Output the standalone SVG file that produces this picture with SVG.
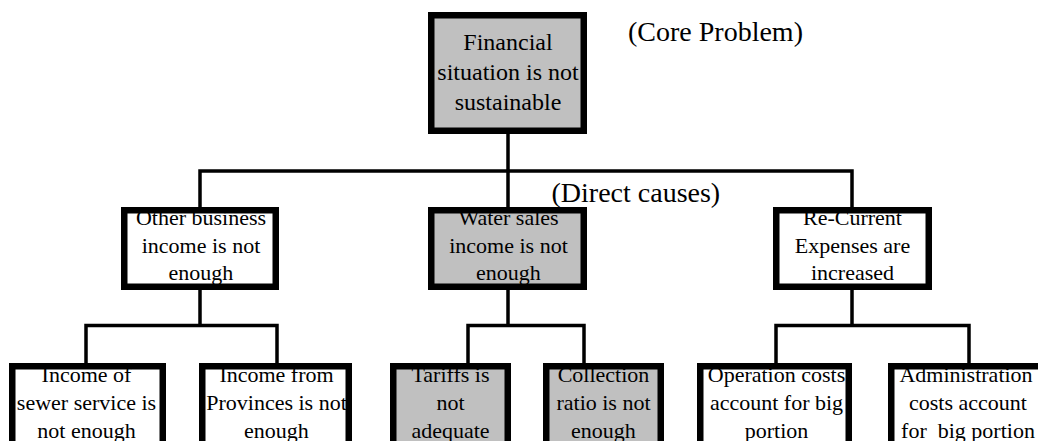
<svg xmlns="http://www.w3.org/2000/svg" width="1038" height="441" viewBox="0 0 1038 441">
<style>
.bg{fill:#ffffff}
.fillg{fill:#c0c0c0;stroke:none}
.fillw{fill:#ffffff;stroke:none}
.border{fill:none;stroke:#000;stroke-width:6.5}
.conn{stroke:#000;stroke-width:3.5;fill:none;stroke-linecap:square}
text{font-family:'Liberation Serif','DejaVu Serif',serif;fill:#000}
.t24{font-size:24px;text-anchor:middle}
.t22{font-size:22px;text-anchor:middle}
.lbl{font-size:28px}
</style>
<rect class="bg" x="0" y="0" width="1038" height="441"/>
<g id="connectors">
<path class="conn" d="M508,134 V171 M200,171 H852 M200,171 V207 M508,171 V207 M852,171 V207"/>
<path class="conn" d="M200,290 V325.5 M86,325.5 H277 M86,325.5 V363 M277,325.5 V363"/>
<path class="conn" d="M508,290 V325.5 M468,325.5 H584 M468,325.5 V363 M584,325.5 V363"/>
<path class="conn" d="M852,290 V325.5 M776,325.5 H969 M776,325.5 V363 M969,325.5 V363"/>
</g>
<text class="lbl" x="628" y="41" font-family="Liberation Serif">(Core Problem)</text>
<text class="lbl" x="551.5" y="201.5" font-family="Liberation Serif">(Direct causes)</text>
<g id="core">
<rect class="fillg" x="431.25" y="15.25" width="152.5" height="115.5"/>
<text class="t24" x="508" y="49.5">Financial</text>
<text class="t24" x="508" y="79.5">situation is not</text>
<text class="t24" x="508" y="109.5">sustainable</text>
<rect class="border" x="431.25" y="15.25" width="152.5" height="115.5"/>
</g>
<g id="other-business">
<rect class="fillw" x="124.25" y="210.25" width="151.5" height="76.5"/>
<text class="t22" x="201" y="225">Other business</text>
<text class="t22" x="201" y="252.5">income is not</text>
<text class="t22" x="201" y="280">enough</text>
<rect class="border" x="124.25" y="210.25" width="151.5" height="76.5"/>
</g>
<g id="water-sales">
<rect class="fillg" x="431.25" y="210.25" width="152.5" height="76.5"/>
<text class="t22" x="508.5" y="225">Water sales</text>
<text class="t22" x="508.5" y="252.5">income is not</text>
<text class="t22" x="508.5" y="280">enough</text>
<rect class="border" x="431.25" y="210.25" width="152.5" height="76.5"/>
</g>
<g id="recurrent">
<rect class="fillw" x="776.25" y="210.25" width="152.5" height="76.5"/>
<text class="t22" x="852.5" y="225">Re-Current</text>
<text class="t22" x="852.5" y="252.5">Expenses are</text>
<text class="t22" x="852.5" y="280">increased</text>
<rect class="border" x="776.25" y="210.25" width="152.5" height="76.5"/>
</g>
<g id="sewer">
<rect class="fillw" x="12.25" y="366.25" width="150.5" height="100"/>
<text class="t22" x="86.5" y="381.5">Income of</text>
<text class="t22" x="86.5" y="409.5">sewer service is</text>
<text class="t22" x="86.5" y="437.5">not enough</text>
<rect class="border" x="12.25" y="366.25" width="150.5" height="100"/>
</g>
<g id="provinces">
<rect class="fillw" x="202.25" y="366.25" width="146.5" height="100"/>
<text class="t22" x="276.5" y="381.5">Income from</text>
<text class="t22" x="276.5" y="409.5">Provinces is not</text>
<text class="t22" x="276.5" y="437.5">enough</text>
<rect class="border" x="202.25" y="366.25" width="146.5" height="100"/>
</g>
<g id="tariffs">
<rect class="fillg" x="393.25" y="366.25" width="114.5" height="100"/>
<text class="t22" x="450.5" y="381.5">Tariffs is</text>
<text class="t22" x="450.5" y="409.5">not</text>
<text class="t22" x="450.5" y="437.5">adequate</text>
<rect class="border" x="393.25" y="366.25" width="114.5" height="100"/>
</g>
<g id="collection">
<rect class="fillg" x="546.25" y="366.25" width="114.5" height="100"/>
<text class="t22" x="603.5" y="381.5">Collection</text>
<text class="t22" x="603.5" y="409.5">ratio is not</text>
<text class="t22" x="603.5" y="437.5">enough</text>
<rect class="border" x="546.25" y="366.25" width="114.5" height="100"/>
</g>
<g id="operation">
<rect class="fillw" x="700.25" y="366.25" width="148.5" height="100"/>
<text class="t22" x="776.5" y="381.5">Operation costs</text>
<text class="t22" x="776.5" y="409.5">account for big</text>
<text class="t22" x="776.5" y="437.5">portion</text>
<rect class="border" x="700.25" y="366.25" width="148.5" height="100"/>
</g>
<g id="administration">
<rect class="fillw" x="891.25" y="366.25" width="155.5" height="100"/>
<text class="t22" x="966" y="381.5">Administration</text>
<text class="t22" x="968" y="409.5">costs account</text>
<text class="t22" x="968" y="437.5" xml:space="preserve">for  big portion</text>
<rect class="border" x="891.25" y="366.25" width="155.5" height="100"/>
</g>
</svg>
